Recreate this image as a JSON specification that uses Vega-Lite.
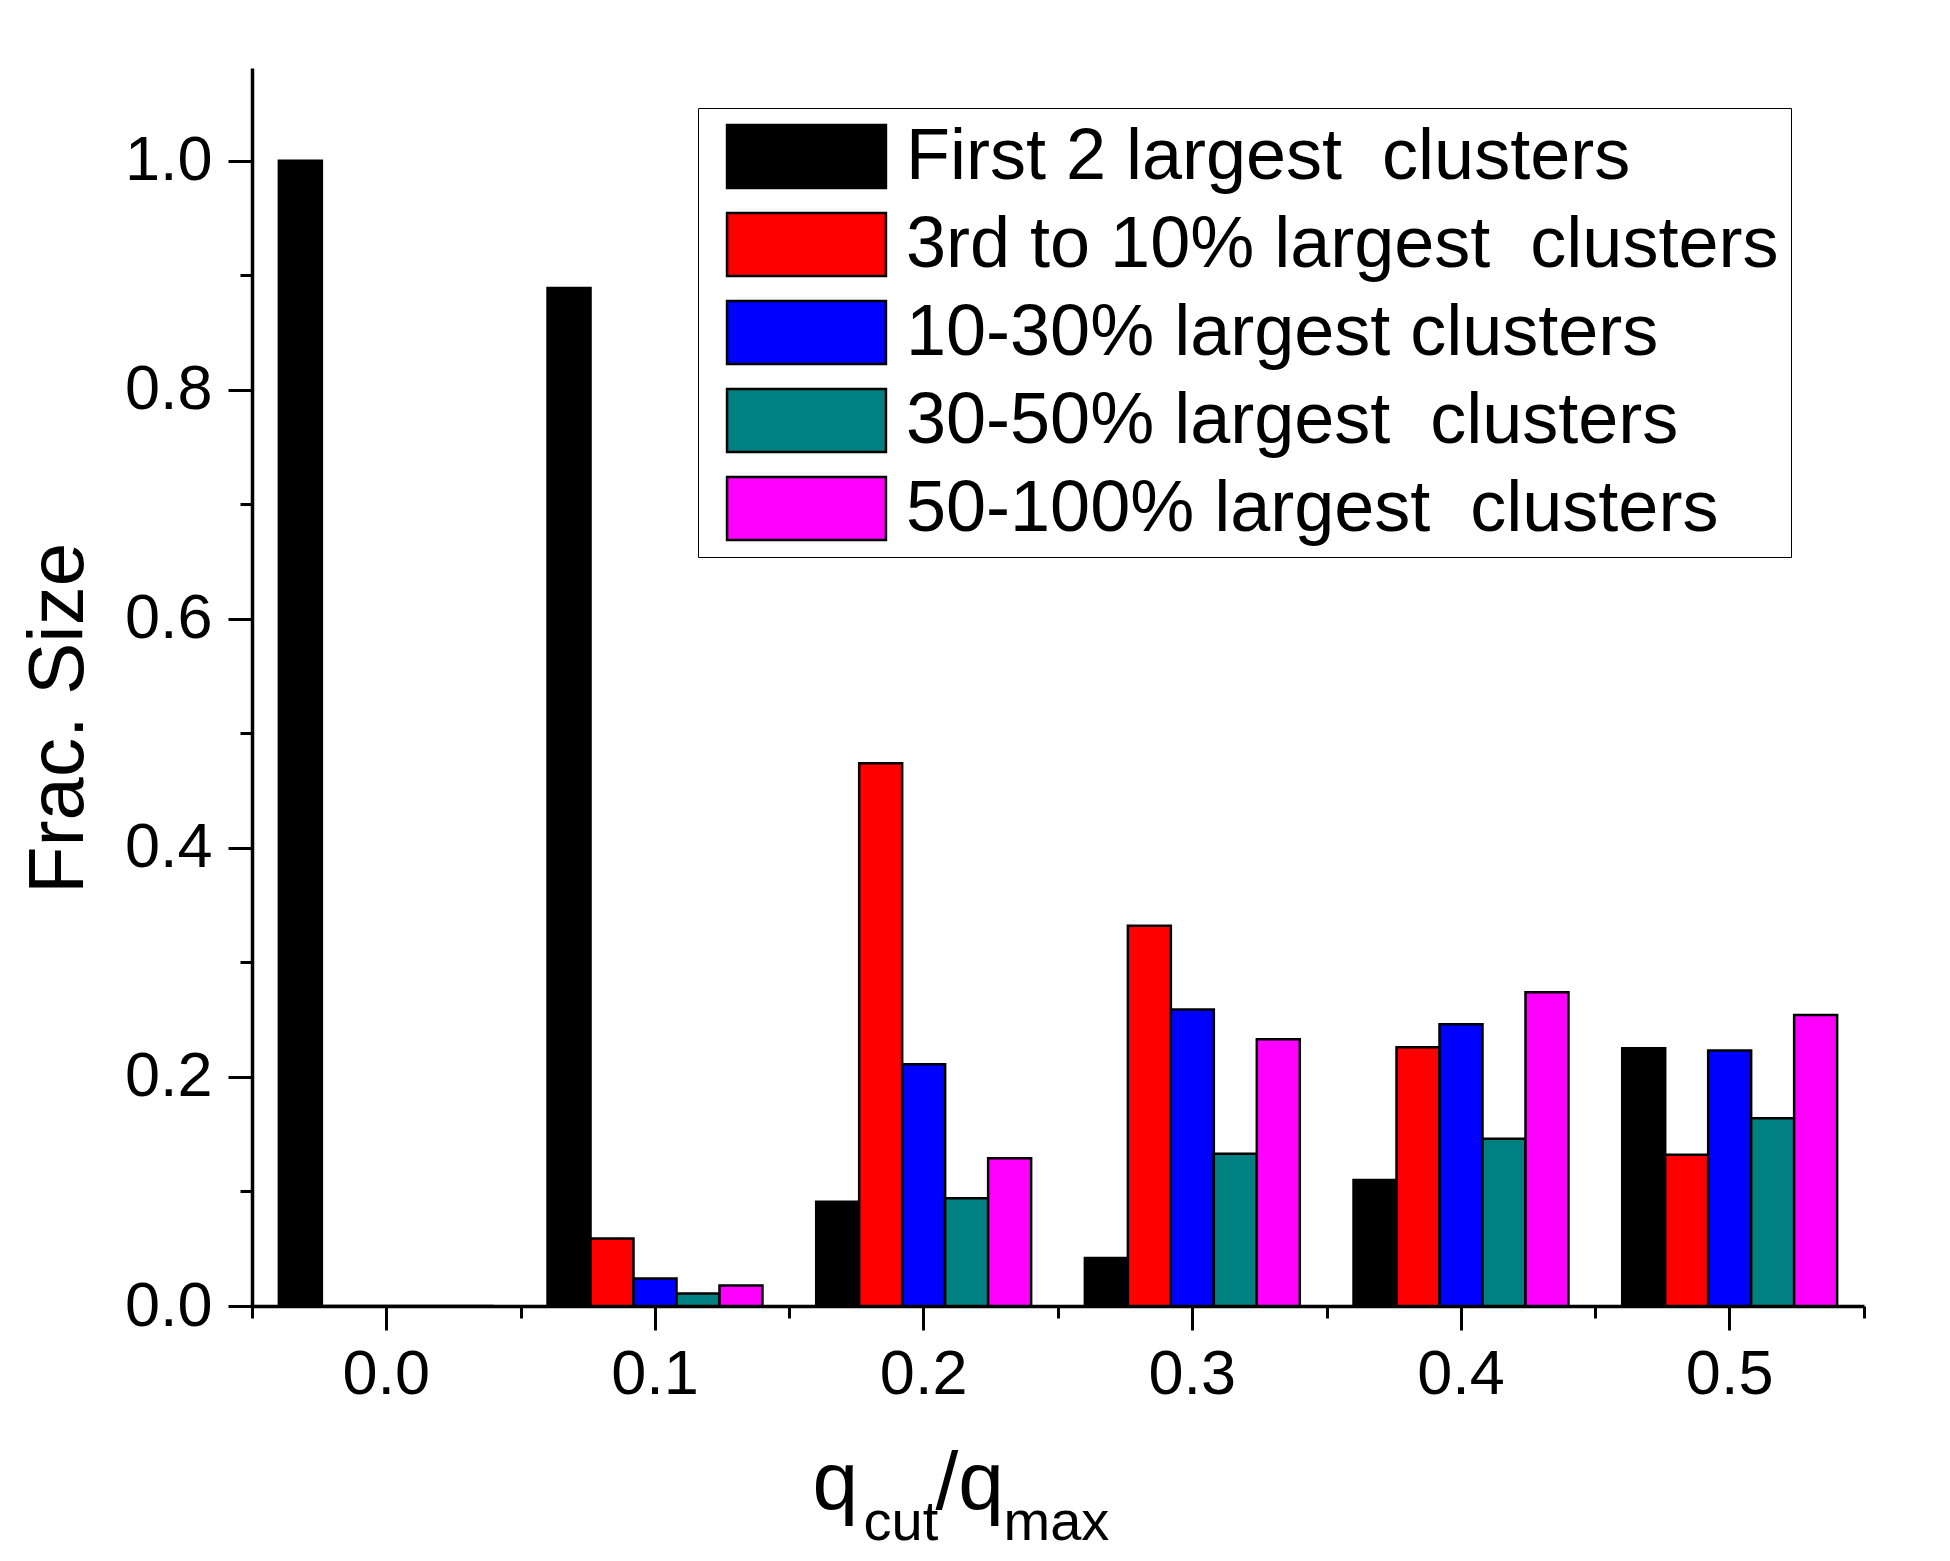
{
  "$schema": "https://vega.github.io/schema/vega-lite/v6.json",
  "width": 1612,
  "height": 1238,
  "autosize": {"type": "none"},
  "padding": {"left": 252, "top": 68, "right": 86, "bottom": 255},
  "background": "white",
  "config": {
    "view": {"stroke": null},
    "font": "Liberation Sans",
    "axis": {"labelFont": "Liberation Sans", "titleFont": "Liberation Sans", "labelColor": "black", "titleColor": "black", "domainColor": "black", "tickColor": "black", "grid": false, "titleFontWeight": "normal"}
  },
  "data": {
    "values": [
      {"q": 0.0, "series": "First 2 largest\u00a0 clusters", "v": 1.0},
      {"q": 0.0, "series": "3rd to 10% largest\u00a0 clusters", "v": 0},
      {"q": 0.0, "series": "10-30% largest clusters", "v": 0},
      {"q": 0.0, "series": "30-50% largest\u00a0 clusters", "v": 0},
      {"q": 0.0, "series": "50-100% largest\u00a0 clusters", "v": 0},
      {"q": 0.1, "series": "First 2 largest\u00a0 clusters", "v": 0.889},
      {"q": 0.1, "series": "3rd to 10% largest\u00a0 clusters", "v": 0.059},
      {"q": 0.1, "series": "10-30% largest clusters", "v": 0.024},
      {"q": 0.1, "series": "30-50% largest\u00a0 clusters", "v": 0.011},
      {"q": 0.1, "series": "50-100% largest\u00a0 clusters", "v": 0.018},
      {"q": 0.2, "series": "First 2 largest\u00a0 clusters", "v": 0.091},
      {"q": 0.2, "series": "3rd to 10% largest\u00a0 clusters", "v": 0.474},
      {"q": 0.2, "series": "10-30% largest clusters", "v": 0.211},
      {"q": 0.2, "series": "30-50% largest\u00a0 clusters", "v": 0.094},
      {"q": 0.2, "series": "50-100% largest\u00a0 clusters", "v": 0.129},
      {"q": 0.3, "series": "First 2 largest\u00a0 clusters", "v": 0.042},
      {"q": 0.3, "series": "3rd to 10% largest\u00a0 clusters", "v": 0.332},
      {"q": 0.3, "series": "10-30% largest clusters", "v": 0.259},
      {"q": 0.3, "series": "30-50% largest\u00a0 clusters", "v": 0.133},
      {"q": 0.3, "series": "50-100% largest\u00a0 clusters", "v": 0.233},
      {"q": 0.4, "series": "First 2 largest\u00a0 clusters", "v": 0.110},
      {"q": 0.4, "series": "3rd to 10% largest\u00a0 clusters", "v": 0.226},
      {"q": 0.4, "series": "10-30% largest clusters", "v": 0.246},
      {"q": 0.4, "series": "30-50% largest\u00a0 clusters", "v": 0.146},
      {"q": 0.4, "series": "50-100% largest\u00a0 clusters", "v": 0.274},
      {"q": 0.5, "series": "First 2 largest\u00a0 clusters", "v": 0.225},
      {"q": 0.5, "series": "3rd to 10% largest\u00a0 clusters", "v": 0.132},
      {"q": 0.5, "series": "10-30% largest clusters", "v": 0.223},
      {"q": 0.5, "series": "30-50% largest\u00a0 clusters", "v": 0.164},
      {"q": 0.5, "series": "50-100% largest\u00a0 clusters", "v": 0.254}
    ]
  },
  "layer": [
    {
      "mark": {"type": "bar", "stroke": "black", "strokeWidth": 2.5},
      "encoding": {
        "x": {
          "field": "q", "type": "ordinal",
          "scale": {"paddingInner": 0, "paddingOuter": 0},
          "axis": {
            "orient": "bottom",
            "labelExpr": "format(datum.value, '.1f')",
            "labelFontSize": 63, "labelAngle": 0, "labelPadding": 13,
            "tickSize": 24, "tickWidth": 3, "domainWidth": 3.5,
            "title": "q", "titleFontSize": 82,
            "titleX": 560, "titleY": 202, "titleAlign": "left", "titleBaseline": "alphabetic"
          }
        },
        "xOffset": {
          "field": "series", "type": "nominal",
          "scale": {"domain": ["First 2 largest\u00a0 clusters", "3rd to 10% largest\u00a0 clusters", "10-30% largest clusters", "30-50% largest\u00a0 clusters", "50-100% largest\u00a0 clusters"], "paddingInner": 0, "paddingOuter": 0.625}
        },
        "y": {
          "field": "v", "type": "quantitative",
          "scale": {"domain": [0, 1.081], "nice": false, "zero": true},
          "axis": {
            "orient": "left",
            "values": [0, 0.2, 0.4, 0.6, 0.8, 1.0], "format": ".1f",
            "labelFontSize": 63, "labelPadding": 16,
            "tickSize": 24, "tickWidth": 3, "domainWidth": 3.5,
            "title": "Frac. Size", "titleFontSize": 78,
            "titleX": -170, "titleY": 650, "titleAngle": 270, "titleAlign": "center", "titleBaseline": "alphabetic"
          }
        },
        "color": {
          "field": "series", "type": "nominal",
          "scale": {
            "domain": ["First 2 largest\u00a0 clusters", "3rd to 10% largest\u00a0 clusters", "10-30% largest clusters", "30-50% largest\u00a0 clusters", "50-100% largest\u00a0 clusters"],
            "range": ["#000000", "#FF0000", "#0000FF", "#008080", "#FF00FF"]
          },
          "legend": {
            "orient": "none", "legendX": 446, "legendY": 40,
            "title": null,
            "symbolType": "M-2.27,-0.9H2.27V0.9H-2.27Z",
            "symbolSize": 4900,
            "symbolStrokeColor": "black", "symbolStrokeWidth": 2.5, "symbolOpacity": 1,
            "labelFontSize": 72, "labelFont": "Liberation Sans", "labelColor": "black",
            "labelLimit": 0,
            "labelOffset": 63, "symbolOffset": 60,
            "padding": 12, "rowPadding": 15,
            "strokeColor": "black", "fillColor": "white"
          }
        }
      }
    },
    {
      "mark": {"type": "point", "opacity": 0},
      "encoding": {
        "x": {
          "field": "q", "type": "quantitative",
          "scale": {"domain": [-0.05, 0.55], "nice": false, "zero": false},
          "axis": {
            "orient": "bottom", "values": [-0.05, 0.05, 0.15, 0.25, 0.35, 0.45, 0.55],
            "labels": false, "domain": false, "tickSize": 12, "tickWidth": 3,
            "title": "cut", "titleFontSize": 56,
            "titleX": 611, "titleY": 233, "titleAlign": "left", "titleBaseline": "alphabetic"
          }
        },
        "y": {
          "field": "v", "type": "quantitative",
          "scale": {"domain": [0, 1.081], "nice": false, "zero": true},
          "axis": {
            "orient": "left", "values": [0.1, 0.3, 0.5, 0.7, 0.9],
            "labels": false, "domain": false, "tickSize": 12, "tickWidth": 3,
            "title": null
          }
        }
      }
    },
    {
      "mark": {"type": "point", "opacity": 0},
      "encoding": {
        "x": {
          "field": "q", "type": "quantitative",
          "scale": {"domain": [-0.05, 0.55], "nice": false, "zero": false},
          "axis": {
            "orient": "bottom", "values": [],
            "labels": false, "domain": false, "ticks": false,
            "title": "max", "titleFontSize": 56,
            "titleX": 751, "titleY": 233, "titleAlign": "left", "titleBaseline": "alphabetic"
          }
        },
        "y": {
          "field": "v", "type": "quantitative",
          "scale": {"domain": [0, 1.081], "nice": false, "zero": true},
          "axis": {
            "orient": "left", "values": [],
            "labels": false, "domain": false, "ticks": false,
            "title": "/q", "titleFontSize": 82, "titleAngle": 0,
            "titleX": 683, "titleY": 1440, "titleAlign": "left", "titleBaseline": "alphabetic"
          }
        }
      }
    }
  ],
  "resolve": {
    "scale": {"x": "independent", "y": "independent"},
    "axis": {"x": "independent", "y": "independent"}
  }
}
